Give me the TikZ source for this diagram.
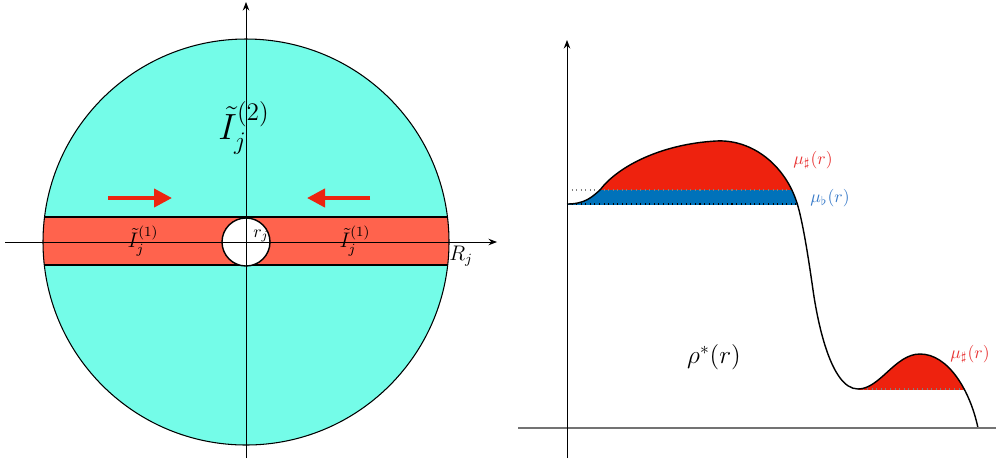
\documentclass[tikz,border=0pt]{standalone}
\usepackage{amsmath,amssymb}
\usetikzlibrary{arrows.meta}
\definecolor{diskCyan}{RGB}{116,252,232}
\definecolor{bandRed}{RGB}{255,99,77}
\definecolor{pushRed}{RGB}{236,36,16}
\definecolor{muRed}{RGB}{238,34,14}
\definecolor{muBlue}{RGB}{0,114,186}
\definecolor{labRed}{RGB}{232,52,52}
\definecolor{labBlue}{RGB}{56,122,200}
% profile rho^*(r), pixel coordinates
\newcommand\rhopath{(567,204) .. controls (585,204) and (592,197) .. (600,190)
  .. controls (618,166) and (662,144) .. (716,141)
  .. controls (752,139) and (785,165) .. (797,203)
  .. controls (803,222) and (809,262) .. (813,290)
  .. controls (817,318) and (830,389) .. (858,389)
  .. controls (880,389) and (895,354) .. (920,354)
  .. controls (948,354) and (970,390) .. (978,428)}

\begin{document}
\begin{tikzpicture}[x=0.02cm,y=-0.02cm,>={Stealth[length=1.7mm,width=1.3mm]},
        ax/.style={->,line width=0.5pt},
        push/.style={-{Triangle[length=3.6mm,width=3.6mm]},pushRed,line width=2.3pt},
        lvl/.style={dotted,line width=0.6pt}]
        \useasboundingbox (0,0) rectangle (996,461);
        % left: disc with band
        \coordinate (o) at (246,242);
        \fill[diskCyan] (o) circle (203);
        \begin{scope}
          \clip (o) circle (203);
          \draw[fill=bandRed,line width=0.8pt] (20,217) rectangle (470,265);
        \end{scope}
        \draw[line width=0.6pt] (o) circle (203);
        \draw[fill=white,line width=0.8pt] (o) circle (24);
        \draw[ax] (5,242) -- (497,242);
        \draw[ax] (246,458) -- (246,2);
        \node[font=\huge] (i2) at (244,128) {$\tilde I_j^{(2)}$};
        \node[font=\large] (i1l) at (143,241) {$\tilde I_j^{(1)}$};
        \node[font=\large] (i1r) at (355,241) {$\tilde I_j^{(1)}$};
        \node (rj) at (261,236) {$r_j$};
        \node[font=\large] (Rj) at (461,256) {$R_j$};
        \coordinate (pl0) at (108,198); \coordinate (pl1) at (172,198);
        \coordinate (pr0) at (370,198); \coordinate (pr1) at (307,198);
        \draw[push] (pl0) -- (pl1); \draw[push] (pr0) -- (pr1);
        % right: profile and excess
        \begin{scope}
          \clip (567,100) rectangle (850,190);
          \fill[muRed] \rhopath -- (978,440) -- (567,440) -- cycle;
        \end{scope}
        \begin{scope}
          \clip (567,190) rectangle (850,204);
          \fill[muBlue] \rhopath -- (978,440) -- (567,440) -- cycle;
        \end{scope}
        \begin{scope}
          \clip (858,300) rectangle (990,389);
          \fill[muRed] \rhopath -- (978,440) -- (567,440) -- cycle;
        \end{scope}
        \draw[lvl,gray] (567,190) -- (794,190);
        \draw[lvl] (567,204) -- (798,204);
        \draw[lvl,gray] (858,389) -- (964,389);
        \draw[line width=0.8pt] \rhopath;
        \draw[gray!90!black,line width=1pt] (518,428) -- (996,428);
        \draw[ax] (567,458) -- (567,40);
        \node[text=labRed] (ms1) at (813,160) {$\mu_\sharp(r)$};
        \node[text=labBlue] (mf) at (830,198) {$\mu_\flat(r)$};
        \node[text=labRed] (ms2) at (970,354) {$\mu_\sharp(r)$};
        \node[font=\Large] (rho) at (714,357) {$\rho^*(r)$};
      \end{tikzpicture}
\end{document}
